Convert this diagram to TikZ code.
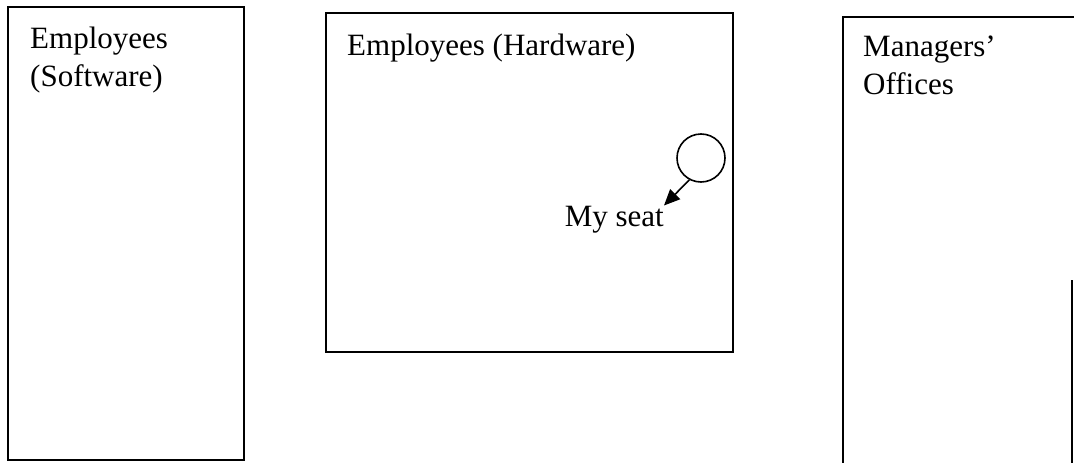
\documentclass[tikz,border=0pt]{standalone}
\usepackage{fontspec}
\setmainfont{Liberation Serif}
\usetikzlibrary{arrows.meta}
\tikzset{
  room/.style={draw, line width=1.8pt, inner sep=0pt},
  roomtext/.style={font=\fontsize{31}{38}\selectfont, align=left, inner sep=0pt, anchor=base west},
  seatmark/.style={draw, circle, line width=1.6pt, minimum size=48pt, inner sep=0pt},
  seatarrow/.style={-{Triangle[length=16pt,width=14pt]}, line width=1.6pt},
}
\begin{document}
\begin{tikzpicture}[x=1pt,y=-1pt]
  \useasboundingbox (0,0) rectangle (1074,463);

  % rooms
  \node[room, minimum width=236pt, minimum height=453pt] (soft) at (126,233.5) {};
  \node[room, minimum width=407pt, minimum height=339pt] (hard) at (529.5,182.5) {};
  \draw[line width=1.8pt] (1074,17) -- (843,17) -- (843,463);
  \draw[line width=1.8pt] (1072,280) -- (1072,463);

  \node[roomtext] (softlbl) at (30,86) {Employees\\(Software)};
  \node[roomtext] (hardlbl) at (347,55) {Employees (Hardware)};
  \node[roomtext] (mgrlbl) at (863,94) {Managers'\\Offices};

  % my seat
  \node[seatmark] (seat) at (701,158) {};
  \node[roomtext, anchor=base east] (seatlbl) at (664,226) {My seat};
  \draw[seatarrow] (seat.242) -- (seatlbl.north east);
\end{tikzpicture}
\end{document}
